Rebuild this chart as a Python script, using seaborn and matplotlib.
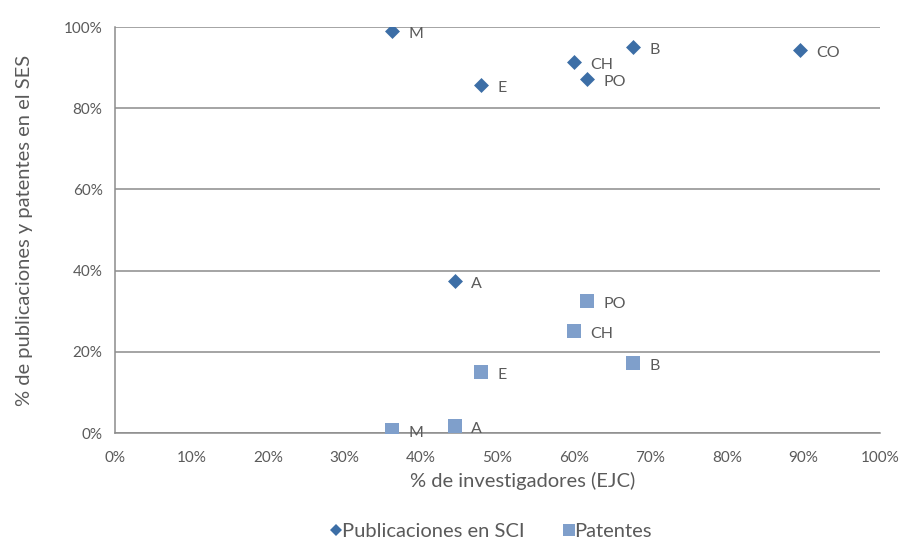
import matplotlib
matplotlib.use("Agg")
import matplotlib.pyplot as plt
import seaborn as sns
import pandas as pd
from matplotlib.lines import Line2D
from matplotlib.ticker import PercentFormatter

# Regional shares (%)
regions = ["M", "E", "CH", "PO", "B", "CO", "A"]
investigadores = [36.2, 47.8, 60.0, 61.7, 67.7, 89.5, 44.4]
publicaciones = [99.0, 85.7, 91.4, 87.2, 95.1, 94.3, 37.4]

pat_regions = ["M", "A", "E", "CH", "PO", "B"]
pat_investigadores = [36.2, 44.4, 47.8, 60.0, 61.7, 67.7]
patentes = [0.7, 1.7, 15.0, 25.1, 32.5, 17.2]

series_names = ["Publicaciones en SCI", "Patentes"]
x_ticks = list(range(0, 101, 10))
y_ticks = list(range(0, 101, 20))

df = pd.concat([
    pd.DataFrame({"region": regions, "x": investigadores, "y": publicaciones,
                  "serie": series_names[0]}),
    pd.DataFrame({"region": pat_regions, "x": pat_investigadores, "y": patentes,
                  "serie": series_names[1]}),
], ignore_index=True)

sns.set_style("white")
plt.rcParams["font.family"] = ["Lato", "DejaVu Sans"]

text_color = "#5a5a5a"
grid_color = "#8c8c8c"
colors = {series_names[0]: "#3c6ea6", series_names[1]: "#7f9fcb"}
markers = {series_names[0]: "D", series_names[1]: "s"}
sizes = {series_names[0]: 58, series_names[1]: 100}
legend_ms = {series_names[0]: 6, series_names[1]: 8.5}

fig = plt.figure(figsize=(9, 5.4), dpi=100)
ax = fig.add_axes([0.1278, 0.198, 0.85, 0.752])

for name in series_names:
    sub = df[df["serie"] == name]
    sns.scatterplot(data=sub, x="x", y="y", marker=markers[name], color=colors[name],
                    s=sizes[name], linewidth=0, ax=ax, zorder=3, legend=False)
    for _, r in sub.iterrows():
        ax.annotate(r["region"], (r["x"], r["y"]), xytext=(12, -2),
                    textcoords="offset points", va="center", ha="left",
                    fontsize=11.5, color=text_color)

ax.set_xlim(0, 100)
ax.set_ylim(0, 100)
ax.set_xticks(x_ticks)
ax.set_yticks(y_ticks)
ax.xaxis.set_major_formatter(PercentFormatter(decimals=0))
ax.yaxis.set_major_formatter(PercentFormatter(decimals=0))
ax.yaxis.grid(True, color=grid_color, linewidth=1.1)
ax.set_axisbelow(True)

for side in ["top", "right"]:
    ax.spines[side].set_visible(False)
for side in ["left", "bottom"]:
    ax.spines[side].set_color(grid_color)
    ax.spines[side].set_linewidth(1.1)

ax.tick_params(axis="both", direction="out", length=5, width=1.1, color=grid_color,
               labelsize=11, labelcolor=text_color, pad=4)
ax.tick_params(axis="x", pad=8)

ax.set_xlabel("% de investigadores (EJC)", fontsize=14.5, color=text_color,
              labelpad=5, x=0.533)
ax.set_ylabel("% de publicaciones y patentes en el SES", fontsize=14.5,
              color=text_color, labelpad=22)

handles = [Line2D([], [], linestyle="none", marker=markers[n], color=colors[n],
                  markersize=legend_ms[n], markeredgewidth=0) for n in series_names]
fig.legend(handles, series_names, loc="lower center", bbox_to_anchor=(0.542, -0.034),
           ncol=2, frameon=False, fontsize=14.5, handletextpad=-0.3, handlelength=1.2,
           columnspacing=1.6, labelcolor=text_color)

fig.savefig("out.png", dpi=100)
